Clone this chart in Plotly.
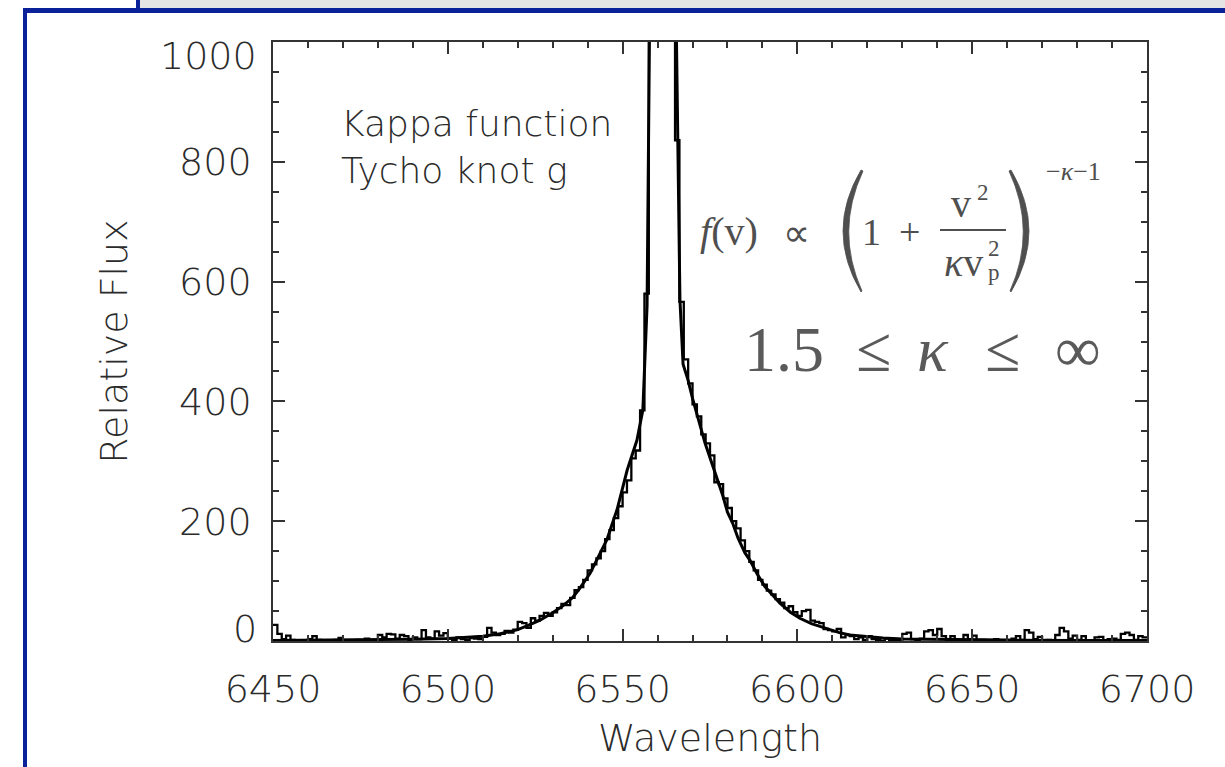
import plotly.graph_objects as go

# ---------------- data ----------------
BIN_START = 6450.0
BIN_WIDTH = 1.25
HIST_FLUX = [
    27, 12, 3, 9, 2, 0, 1, 0, 3, 8,
    2, 0, 1, 0, 2, 5, 0, 1, 0, 2,
    0, 4, 1, 0, 10, 6, 12, 11, 4, 10,
    8, 2, 6, 3, 18, 6, 4, 16, 9, 13,
    4, 2, 6, 3, 2, 5, 4, 3, 7, 22,
    14, 10, 12, 17, 14, 19, 32, 30, 22, 38,
    34, 42, 47, 42, 48, 55, 62, 60, 72, 85,
    90, 102, 118, 128, 138, 150, 170, 185, 205, 225,
    248, 268, 305, 318, 385, 580, 1600, 3200, 4300, 4800,
    4200, 2300, 836, 566, 470, 430, 395, 375, 345, 330,
    310, 265, 262, 238, 222, 200, 188, 168, 150, 132,
    118, 102, 94, 84, 78, 70, 64, 55, 58, 48,
    42, 50, 52, 34, 32, 30, 20, 18, 16, 20,
    6, 10, 8, 3, 6, 2, 8, 3, 2, 0,
    4, 1, 0, 2, 12, 14, 3, 0, 4, 16,
    18, 10, 20, 8, 2, 8, 2, 0, 10, 3,
    9, 0, 2, 1, 0, 3, 0, 1, 0, 4,
    8, 2, 18, 14, 3, 7, 0, 2, 1, 10,
    22, 16, 4, 9, 2, 8, 1, 0, 6, 7,
    0, 3, 4, 2, 12, 14, 10, 2, 8, 6,
]

FIT_WAVE = [6450, 6470, 6490, 6500, 6505, 6510, 6515, 6520, 6523, 6526.4,
            6530, 6533, 6535.8, 6538, 6540.7, 6543, 6545.5, 6548.4, 6551.3, 6554.1,
            6555.8, 6557, 6557.8, 6558.5, 6560, 6561.5, 6563, 6564.5, 6565.3, 6566.4,
            6567.3, 6568.7, 6570, 6573.6, 6576, 6578.7, 6580, 6581.6, 6583, 6585,
            6586.4, 6588.5, 6590.7, 6593, 6595, 6598, 6600.7, 6604, 6608.5, 6612,
            6615, 6620, 6624.5, 6630, 6640, 6660, 6680, 6700]
FIT_FLUX = [1, 1.5, 3, 4, 5.5, 8, 12, 19, 26, 35,
            47, 59, 73, 90, 113, 140, 169, 219, 285, 335,
            386, 560, 1050, 2000, 3500, 4500, 4500, 3000, 1050, 570,
            462, 436, 405, 330, 290, 242, 215, 195, 172, 147,
            135, 112, 91, 76, 63, 48, 38, 29, 20, 14,
            10, 7, 5, 3.5, 2.5, 1.5, 1, 1]

X_RANGE = [6450, 6700]
Y_RANGE = [0, 1000]
Y_TICKS = [0, 200, 400, 600, 800, 1000]
X_TITLE = "Wavelength"
Y_TITLE = "Relative Flux"
LABEL_LINES = ["Kappa function", "Tycho knot g"]

# ---------------- layout helpers ----------------
W, H = 1225, 767
PL, PR, PT, PB = 273, 1147, 42, 641


def px(x, y):
    return (x - PL) / (PR - PL), (PB - y) / (PB - PT)


edges = [BIN_START + BIN_WIDTH * i for i in range(len(HIST_FLUX) + 1)]
hist_y = HIST_FLUX + [HIST_FLUX[-1]]

fig = go.Figure()
fig.add_trace(go.Scatter(x=edges, y=hist_y, mode="lines", line_shape="hv",
                         line=dict(color="black", width=2.3), showlegend=False,
                         hoverinfo="skip"))
fig.add_trace(go.Scatter(x=FIT_WAVE, y=FIT_FLUX, mode="lines",
                         line=dict(color="black", width=3), showlegend=False,
                         hoverinfo="skip"))

SANS = "DejaVu Sans"
TXT = "#2b2b2b"
TICKFONT = dict(family=SANS, size=38, color=TXT, weight=200)
axis_common = dict(showgrid=False, zeroline=False, showline=True, linecolor="#333",
                   linewidth=1.5, mirror="ticks", ticks="inside", ticklen=12,
                   tickwidth=1.5, tickcolor="#333",
                   tickfont=TICKFONT,
                   title_font=dict(family=SANS, size=38, color=TXT, weight=200))

fig.update_xaxes(range=X_RANGE, tick0=6450, dtick=50,
                 minor=dict(dtick=10, ticks="inside", ticklen=6, tickwidth=1.5, tickcolor="#333"),
                 title_text=X_TITLE, title_standoff=14, ticklabelstandoff=14, **axis_common)
# end labels (0 and 1000) are drawn as annotations, nudged inward like the original
y_ticktext = ["" if v in (Y_RANGE[0], Y_RANGE[1]) else str(v) for v in Y_TICKS]
fig.update_yaxes(range=Y_RANGE, tickmode="array", tickvals=Y_TICKS, ticktext=y_ticktext,
                 minor=dict(dtick=50, ticks="inside", ticklen=6, tickwidth=1.5, tickcolor="#333"),
                 title_text=Y_TITLE, title_standoff=40, ticklabelstandoff=12, **axis_common)

annotations = []


def add_text(text, x, y, size, family, color, xanchor="center", yanchor="middle", weight=None):
    ax, ay = px(x, y)
    font = dict(family=family, size=size, color=color)
    if weight:
        font["weight"] = weight
    annotations.append(dict(text=text, x=ax, y=ay, xref="paper", yref="paper",
                            xanchor=xanchor, yanchor=yanchor, showarrow=False,
                            font=font))


add_text(str(Y_RANGE[1]), 259, 56, 38, SANS, TXT, xanchor="right", weight=200)
add_text(str(Y_RANGE[0]), 259, 629, 38, SANS, TXT, xanchor="right", weight=200)

# plot labels
add_text(LABEL_LINES[0], 339, 123, 36, SANS, TXT, xanchor="left", weight=200)
add_text(LABEL_LINES[1], 339, 170, 36, SANS, TXT, xanchor="left", weight=200)

SERIF = "Liberation Serif"
FG = "#4f4f4f"
add_text("<i>f</i>(v)", 729, 232, 40, SERIF, FG)
add_text("\u221d", 796, 233, 38, SERIF, FG)
add_text("1", 871, 232, 38, SERIF, FG)
add_text("+", 909, 232, 38, SERIF, FG)
add_text("v", 961, 203, 40, SERIF, FG)
add_text("2", 983, 192, 23, SERIF, FG)
add_text("<i>\u03ba</i>v", 963, 262, 40, SERIF, FG)
add_text("2", 994, 249, 23, SERIF, FG)
add_text("p", 994, 272, 23, SERIF, FG)
add_text("\u2212<i>\u03ba</i>\u22121", 1073, 171, 26, SERIF, FG)

BIG = "#5a5a5a"
add_text("1.5", 784, 350, 64, SERIF, BIG)
add_text("\u2264", 873, 350, 64, SERIF, BIG)
add_text("<i>\u03ba</i>", 933, 350, 64, SERIF, BIG)
add_text("\u2264", 1002, 350, 64, SERIF, BIG)
add_text("\u221e", 1078, 350, 64, SERIF, BIG)

shapes = []


def rect(x0, y0, x1, y1, color):
    a0, b0 = px(x0, y0)
    a1, b1 = px(x1, y1)
    shapes.append(dict(type="rect", xref="paper", yref="paper", x0=a0, y0=b0, x1=a1, y1=b1,
                       fillcolor=color, line=dict(width=0), layer="above"))


def pathshape(points_cmds, color):
    parts = []
    for cmd, pts in points_cmds:
        coords = " ".join("%.5f,%.5f" % px(x, y) for x, y in pts)
        parts.append(cmd + coords)
    shapes.append(dict(type="path", xref="paper", yref="paper", path=" ".join(parts) + " Z",
                       fillcolor=color, line=dict(color=color, width=0.8), layer="above"))


# big parentheses (crescents)
pathshape([("M", [(861, 170)]), ("Q", [(825, 231), (861, 292)]),
           ("L", [(862, 291)]), ("Q", [(835, 231), (863, 171)])], FG)
pathshape([("M", [(1011, 170)]), ("Q", [(1047, 231), (1011, 292)]),
           ("L", [(1010, 291)]), ("Q", [(1037, 231), (1009, 171)])], FG)
# fraction bar
a0, b0 = px(940, 230)
a1, b1 = px(1006, 230)
shapes.append(dict(type="line", xref="paper", yref="paper", x0=a0, y0=b0, x1=a1, y1=b1,
                   line=dict(color=FG, width=2.2)))

# slide frame decorations
rect(137, 0, 1225, 8, "#e4e4e4")
rect(136, 0, 140, 10, "#0b2199")
rect(23, 8, 1225, 13, "#0b2199")
rect(23, 8, 27, 767, "#0b2199")

fig.update_layout(width=W, height=H, autosize=False,
                  margin=dict(l=PL, r=W - PR, t=PT, b=H - PB, pad=0),
                  paper_bgcolor="white", plot_bgcolor="white",
                  annotations=annotations, shapes=shapes)

fig.write_html("out.html", config={"displayModeBar": False},
               post_script="document.body.style.margin='0';")
